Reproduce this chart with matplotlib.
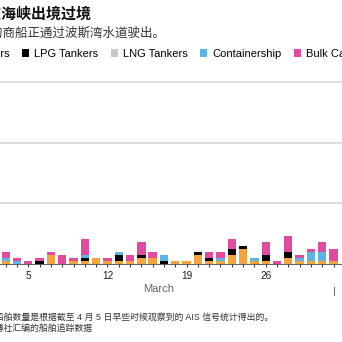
import matplotlib
matplotlib.use("Agg")
import matplotlib.pyplot as plt
from matplotlib.patches import Patch
from matplotlib.transforms import blended_transform_factory
import numpy as np

plt.rcParams["font.family"] = ["Liberation Sans", "Noto Sans CJK SC"]

# daily transits out of the Gulf, day of March (32 = April 1)
days = np.arange(3, 33)
tick_days = [5, 12, 19, 26]
month_label = "March"

series_names = ["Crude Tankers", "LPG Tankers", "LNG Tankers", "Containership", "Bulk Carriers"]
colors = ["#f4a43c", "#000000", "#c8c8c8", "#5ab4e6", "#e04ba0"]

crude = [1, 0, 0, 0, 3, 0, 1, 1, 2, 1, 1, 1, 2, 2, 0, 1, 1, 3, 1, 1, 3, 5, 1, 1, 0, 2, 1, 1, 1, 1]
lpg = [0, 0, 0, 1, 0, 0, 0, 1, 0, 0, 2, 0, 1, 0, 1, 0, 0, 1, 1, 0, 2, 1, 0, 2, 0, 2, 0, 0, 0, 0]
lng = [0, 0, 0, 0, 0, 0, 0, 0, 0, 0, 0, 0, 0, 0, 0, 0, 0, 0, 0, 0, 0, 0, 0, 0, 0, 0, 0, 0, 0, 0]
container = [1, 1, 0, 0, 0, 0, 0, 1, 0, 0, 1, 0, 0, 0, 2, 0, 0, 0, 0, 1, 0, 0, 1, 0, 0, 0, 1, 3, 3, 0]
bulk = [2, 1, 1, 1, 1, 3, 1, 5, 0, 1, 0, 2, 4, 2, 0, 0, 0, 0, 2, 2, 3, 0, 0, 4, 1, 5, 1, 1, 3, 4]

title = "霍尔木兹海峡出境过境"
subtitle = "越来越多的商船正通过波斯湾水道驶出。"
note = "注：船舶数量是根据截至 4 月 5 日早些时候观察到的 AIS 信号统计得出的。"
source = "来源：彭博社汇编的船舶追踪数据"

W = H = 342


def fx(px):
    return px / W


def fy(py):
    return 1 - py / H


fig = plt.figure(figsize=(3.42, 3.42), dpi=100)
ax = fig.add_axes([0, fy(263.7), 1, (263.7 - 75.9) / H])

bottom = np.zeros(len(days))
handles = []
for vals, name, c in zip([crude, lpg, lng, container, bulk], series_names, colors):
    vals = np.array(vals)
    ax.bar(days, vals, bottom=bottom, width=0.74, color=c, linewidth=0, zorder=3)
    bottom += vals
    handles.append(Patch(facecolor=c, label=name))

ax.set_xlim(2.497, 32.75)
ax.set_ylim(0, 62)
for v in [20, 40, 60]:
    ax.axhline(v, color="#dcdcdc", linewidth=1.4, zorder=1)

for s in ["top", "left", "right"]:
    ax.spines[s].set_visible(False)
ax.spines["bottom"].set_color("#444444")
ax.spines["bottom"].set_linewidth(0.6)
ax.set_yticks([])
ax.set_xticks(tick_days)
ax.set_xticks(days, minor=True)
ax.tick_params(axis="x", which="both", length=2.5, width=0.7, color="#333333",
               labelsize=7.2, pad=2.5, labelcolor="#222222")

trans = blended_transform_factory(ax.transData, ax.transAxes)
ax.text(16.5, -0.135, month_label, transform=trans, ha="center", va="center",
        fontsize=8, color="#666666")
ax.plot([32, 32], [-0.125, -0.168], transform=trans, color="#777777",
        linewidth=0.8, clip_on=False)

fig.text(fx(91), fy(14), title, ha="right", va="center", fontsize=10.8,
         fontweight="bold", color="#111111")
fig.text(fx(166), fy(33), subtitle, ha="right", va="center", fontsize=9,
         color="#333333")
fig.text(fx(273), fy(318), note, ha="right", va="center", fontsize=6.4,
         color="#333333")
fig.text(fx(93), fy(328.5), source, ha="right", va="center", fontsize=6.4,
         color="#333333")

fig.legend(handles=handles, loc="center left", bbox_to_anchor=(fx(-75), fy(54)),
           ncol=5, frameon=False, fontsize=8, handlelength=0.65, handleheight=0.65,
           handletextpad=0.45, columnspacing=1.1, borderpad=0, borderaxespad=0)

fig.savefig("out.png", dpi=100)
